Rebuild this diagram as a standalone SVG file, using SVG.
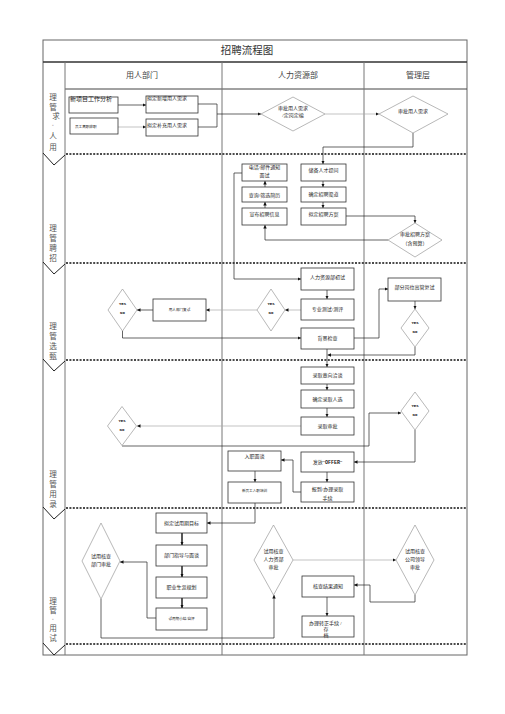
<svg xmlns="http://www.w3.org/2000/svg" width="505" height="714" viewBox="0 0 505 714">
<style>
text{font-family:"Liberation Serif","Noto Sans CJK SC",serif;fill:#222}
.t{font-size:5px}
.tc{font-size:5px;text-anchor:middle}
.ts{font-size:3.6px;text-anchor:middle}
.yn{font-family:"Liberation Mono",monospace;font-weight:bold;font-size:4px;text-anchor:middle}
.lab{font-size:7.6px;text-anchor:middle;fill:#555}
.hd{font-size:8px;text-anchor:middle;fill:#444}
.box{fill:#fff;stroke:#333;stroke-width:0.8}
.dia{fill:#fff;stroke:#999;stroke-width:0.7}
.frame{fill:none;stroke:#666;stroke-width:1}
.ln{fill:none;stroke:#222;stroke-width:0.7;marker-end:url(#ah)}
.lg{fill:none;stroke:#aaa;stroke-width:0.7;marker-end:url(#ah)}
.lk{fill:none;stroke:#111;stroke-width:1.4;marker-end:url(#ah)}
.pl{fill:none;stroke:#222;stroke-width:0.7}
.dash{fill:none;stroke:#111;stroke-width:1.6;stroke-dasharray:2 1.4}
.chev{fill:none;stroke:#222;stroke-width:1}
</style>
<defs>
<marker id="ah" viewBox="0 0 10 10" refX="10" refY="5" markerWidth="3.5" markerHeight="3.5" markerUnits="userSpaceOnUse" orient="auto"><path d="M0,0 L10,5 L0,10 z" fill="#111"/></marker>
</defs>
<rect width="505" height="714" fill="#fff"/>

<g id="frame">
<rect class="frame" x="43" y="40" width="424" height="615"/>
<line x1="43" y1="62" x2="467" y2="62" stroke="#333" stroke-width="1.5"/>
<line x1="65" y1="89" x2="467" y2="89" stroke="#444" stroke-width="1"/>
<line x1="65" y1="62" x2="65" y2="655" stroke="#777" stroke-width="1"/>
<line x1="222" y1="62" x2="222" y2="655" stroke="#777" stroke-width="1"/>
<line x1="364" y1="62" x2="364" y2="655" stroke="#777" stroke-width="1"/>
<text x="247" y="54" style="font-size:10.5px;text-anchor:middle;fill:#333">招聘流程图</text>
<text class="hd" x="142" y="78">用人部门</text>
<text class="hd" x="298" y="78">人力资源部</text>
<text class="hd" x="418" y="78">管理层</text>
<line class="dash" x1="66" y1="154" x2="467" y2="154"/>
<line class="dash" x1="66" y1="263" x2="467" y2="263"/>
<line class="dash" x1="66" y1="360" x2="467" y2="360"/>
<line class="dash" x1="66" y1="508" x2="467" y2="508"/>
<line class="dash" x1="66" y1="644" x2="467" y2="644"/>
<path class="chev" d="M43,153 L54,165 L65,155"/>
<path class="chev" d="M43,262 L54,274 L65,264"/>
<path class="chev" d="M43,359 L54,371 L65,361"/>
<path class="chev" d="M43,507 L54,519 L65,509"/>
<path class="chev" d="M43,643 L54,655 L65,645"/>
</g>

<g id="phase-labels">
<text class="lab" x="53" y="100">理</text>
<text class="lab" x="53" y="110">管</text>
<text class="lab" x="56" y="119">求</text>
<text class="lab" x="53" y="127" style="font-size:5px">◦</text>
<text class="lab" x="53" y="139">人</text>
<text class="lab" x="53" y="150">用</text>
<text class="lab" x="53" y="231">理</text>
<text class="lab" x="53" y="241">管</text>
<text class="lab" x="53" y="251">聘</text>
<text class="lab" x="53" y="261">招</text>
<text class="lab" x="53" y="329">理</text>
<text class="lab" x="53" y="339">管</text>
<text class="lab" x="53" y="349">选</text>
<text class="lab" x="53" y="359">甄</text>
<text class="lab" x="53" y="477">理</text>
<text class="lab" x="53" y="487">管</text>
<text class="lab" x="53" y="497">用</text>
<text class="lab" x="53" y="507">录</text>
<text class="lab" x="53" y="604">理</text>
<text class="lab" x="53" y="613">管</text>
<text class="lab" x="53" y="621" style="font-size:5px">◦</text>
<text class="lab" x="53" y="631">用</text>
<text class="lab" x="53" y="641">试</text>
</g>

<g id="connectors">
<path class="ln" d="M118,105 H146"/>
<path class="lg" d="M118,127 H146"/>
<path class="pl" d="M198,104 H217 V127 H198"/>
<path class="ln" d="M217,114 H261"/>
<path class="lg" d="M325,114 H379"/>
<path class="ln" d="M413,133 V147 H323 V164"/>
<path class="ln" d="M265,208 V202"/>
<path class="ln" d="M265,187 V181"/>
<path class="ln" d="M323,181 V187"/>
<path class="ln" d="M323,202 V208"/>
<path class="ln" d="M346,216 H415 V223"/>
<path class="ln" d="M388,240 H265 V225"/>
<path class="ln" d="M242,173 H234 V279 H301"/>
<path class="ln" d="M327,290 V299"/>
<path class="lg" d="M301,310 H285"/>
<path class="lg" d="M257,310 H206"/>
<path class="ln" d="M153,310 H137"/>
<path class="ln" d="M122.5,331 V338 H301"/>
<path class="ln" d="M354,338 H379 V289 H388"/>
<path class="ln" d="M415,301 V309"/>
<path class="ln" d="M415,347 V355 H327.5"/>
<path class="ln" d="M327,349 V367"/>
<path class="ln" d="M327,384 V390"/>
<path class="ln" d="M327,408 V417"/>
<path class="lg" d="M301,426 H137"/>
<path class="ln" d="M122,446 H369 V413 H401"/>
<path class="ln" d="M415,430 V462 H354"/>
<path class="ln" d="M327,472 V482"/>
<path class="ln" d="M301,492 H293 V460 H281"/>
<path class="ln" d="M255,471 V482"/>
<path class="ln" d="M255,503 V523 H207"/>
<path class="lk" d="M182,533 V545"/>
<path class="lk" d="M182,566 V577"/>
<path class="lk" d="M182,598 V608"/>
<path class="ln" d="M156,618 H147 V562 H120"/>
<path class="ln" d="M101,599 V638 H274 V595"/>
<path class="lg" d="M293,560 H396"/>
<path class="ln" d="M415,595 V602 H370 V585 H354"/>
<path class="ln" d="M327,597 V616"/>
</g>

<g id="n-new-job"><rect class="box" x="69" y="97" width="49" height="16"/><text class="t" x="70" y="101" style="font-size:6px">新项目工作分析</text></g>
<g id="n-draft-new"><rect class="box" x="146" y="96" width="52" height="17"/><text class="t" x="147" y="100">拟定新增用人需求</text></g>
<g id="n-resign"><rect class="box" x="70" y="118" width="48" height="16"/><text class="t" x="75" y="128" style="font-size:3.6px">员工离职辞职</text></g>
<g id="n-draft-add"><rect class="box" x="146" y="119" width="52" height="17"/><text class="t" x="147" y="127">拟定补充用人需求</text></g>
<g id="n-approve-hr"><path class="dia" d="M293,97 L325,114 L293,131 L261,114 Z"/><text class="tc" x="293" y="110">审批用人需求</text><text class="tc" x="293" y="117">/定岗定编</text></g>
<g id="n-approve-mgmt"><path class="dia" d="M413,96 L448,114 L413,133 L379,114 Z"/><text class="tc" x="413" y="113">审批用人需求</text></g>

<g id="n-notify"><rect class="box" x="242" y="164" width="45" height="17"/><text class="tc" x="264.5" y="169">电话/邮件通知</text><text class="tc" x="264.5" y="177">面试</text></g>
<g id="n-screen"><rect class="box" x="242" y="187" width="45" height="15"/><text class="tc" x="264.5" y="196.5">查询/筛选简历</text></g>
<g id="n-publish"><rect class="box" x="242" y="208" width="45" height="17"/><text class="tc" x="264.5" y="216">宣布招聘信息</text></g>
<g id="n-reserve"><rect class="box" x="301" y="164" width="45" height="17"/><text class="tc" x="323.5" y="172">储备人才提问</text></g>
<g id="n-channel"><rect class="box" x="301" y="187" width="45" height="15"/><text class="tc" x="323.5" y="196">确定招聘渠道</text></g>
<g id="n-plan"><rect class="box" x="301" y="208" width="45" height="17"/><text class="tc" x="323.5" y="216">拟定招聘方案</text></g>
<g id="n-approve-plan"><path class="dia" d="M415,223 L442,240 L415,257 L388,240 Z"/><text class="tc" x="415" y="236">审批招聘方案</text><text class="tc" x="415" y="245">（含预算）</text></g>

<g id="n-first-int"><rect class="box" x="301" y="268" width="53" height="22"/><text class="tc" x="327.5" y="279">人力资源部初试</text></g>
<g id="n-test"><rect class="box" x="301" y="299" width="53" height="21"/><text class="tc" x="327.5" y="311">专业测试/测评</text></g>
<g id="n-yn1"><path class="dia" d="M271,289 L285,310 L271,331 L257,310 Z"/><text class="yn" x="271" y="305">YES</text><text class="yn" x="271" y="314">NO</text></g>
<g id="n-dept-int"><rect class="box" x="153" y="299" width="53" height="22"/><text class="ts" x="179.5" y="311">用人部门复试</text></g>
<g id="n-yn2"><path class="dia" d="M122.5,289 L137,310 L122.5,331 L108,310 Z"/><text class="yn" x="122.5" y="305">YES</text><text class="yn" x="122.5" y="314">NO</text></g>
<g id="n-bg"><rect class="box" x="301" y="328" width="53" height="21"/><text class="tc" x="327.5" y="340">背景检查</text></g>
<g id="n-exec-int"><rect class="box" x="388" y="278" width="53" height="23"/><text class="tc" x="414.5" y="289">部分岗位高管复试</text></g>
<g id="n-yn3"><path class="dia" d="M415,309 L429,328 L415,347 L401,328 Z"/><text class="yn" x="415" y="324">YES</text><text class="yn" x="415" y="333">NO</text></g>

<g id="n-intent"><rect class="box" x="301" y="367" width="53" height="17"/><text class="tc" x="327.5" y="377">录取意向洽谈</text></g>
<g id="n-select"><rect class="box" x="301" y="390" width="53" height="18"/><text class="tc" x="327.5" y="401">确定录取人选</text></g>
<g id="n-hire-approve"><rect class="box" x="301" y="417" width="53" height="18"/><text class="tc" x="327.5" y="428">录取审批</text></g>
<g id="n-yn4"><path class="dia" d="M122,406.5 L136.5,426 L122,445.5 L107.5,426 Z"/><text class="yn" x="122" y="422">YES</text><text class="yn" x="122" y="431">NO</text></g>
<g id="n-yn5"><path class="dia" d="M415,392 L429,411 L415,430 L401,411 Z"/><text class="yn" x="415" y="407">YES</text><text class="yn" x="415" y="416">NO</text></g>
<g id="n-offer"><rect class="box" x="301" y="452" width="53" height="20"/><text class="tc" x="327.5" y="464">发放“<tspan style="font-family:'Liberation Mono',monospace;font-weight:bold">OFFER</tspan>”</text></g>
<g id="n-onboard"><rect class="box" x="301" y="482" width="53" height="20"/><text class="tc" x="327.5" y="491">报到/办理录取</text><text class="tc" x="327.5" y="500">手续</text></g>
<g id="n-entry-talk"><rect class="box" x="228" y="451" width="53" height="20"/><text class="tc" x="254.5" y="458">入职面谈</text></g>
<g id="n-training"><rect class="box" x="228" y="482" width="53" height="21"/><text class="ts" x="254.5" y="492">新员工入职培训</text></g>

<g id="n-goal"><rect class="box" x="156" y="513" width="51" height="20"/><text class="tc" x="181.5" y="525">拟定试用期目标</text></g>
<g id="n-guide"><rect class="box" x="156" y="545" width="51" height="21"/><text class="tc" x="181.5" y="557">部门指导与面谈</text></g>
<g id="n-career"><rect class="box" x="156" y="577" width="51" height="21"/><text class="tc" x="181.5" y="589">职业生涯规划</text></g>
<g id="n-summary"><rect class="box" x="156" y="608" width="51" height="22"/><text class="ts" x="181.5" y="620">试用期小结/自评</text></g>
<g id="n-check-dept"><path class="dia" d="M101,523 L120,561 L101,599 L82,561 Z"/><text class="tc" x="101" y="558">试用核查</text><text class="tc" x="101" y="566">部门审批</text></g>
<g id="n-check-hr"><path class="dia" d="M273.5,525 L293,560 L273.5,595 L254,560 Z"/><text class="tc" x="273.5" y="553">试用核查</text><text class="tc" x="273.5" y="561">人力资部</text><text class="tc" x="273.5" y="569">审批</text></g>
<g id="n-check-mgmt"><path class="dia" d="M415,525 L434,560 L415,595 L396,560 Z"/><text class="tc" x="415" y="553">试用核查</text><text class="tc" x="415" y="561">公司领导</text><text class="tc" x="415" y="569">审批</text></g>
<g id="n-result"><rect class="box" x="302" y="576" width="52" height="21"/><text class="tc" x="328" y="588">核查结果通知</text></g>
<g id="n-regular"><rect class="box" x="302" y="616" width="52" height="21"/><text class="t" x="309" y="625">办理转正手续  /</text><text class="tc" x="326" y="631">存</text><text class="tc" x="326" y="637">档</text></g>
</svg>
